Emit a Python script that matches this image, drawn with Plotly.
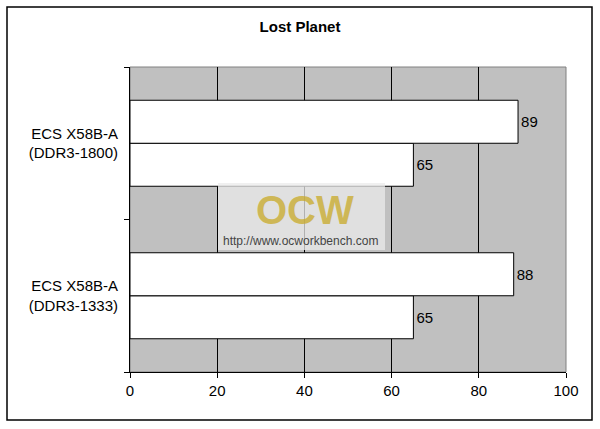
import plotly.graph_objects as go

categories = ["ECS X58B-A<br>(DDR3-1333)", "ECS X58B-A<br>(DDR3-1800)"]
series_lower = [65, 65]
series_upper = [88, 89]
x_ticks = [0, 20, 40, 60, 80, 100]

L, R, T, B = 130, 34, 67, 57
W, H = 600, 429
pw, ph = W - L - R, H - T - B

def px_x(p):
    return (p - L) / pw

def px_y(p):
    return (H - B - p) / ph

FAM = "Arial, Liberation Sans, sans-serif"
font = dict(family=FAM, size=15, color="black")

fig = go.Figure()
for vals in (series_lower, series_upper):
    fig.add_trace(go.Bar(
        y=categories, x=vals, orientation="h",
        marker=dict(color="white", line=dict(color="black", width=1)),
        text=[str(v) for v in vals], textposition="outside",
        textfont=font, cliponaxis=False, showlegend=False, hoverinfo="skip",
    ))

fig.update_layout(
    width=W, height=H,
    margin=dict(l=L, r=R, t=T, b=B),
    paper_bgcolor="white", plot_bgcolor="#C0C0C0",
    barmode="group", bargap=0.436, bargroupgap=0,
    font=font,
    title=dict(text="<b>Lost Planet</b>", x=0.5, xanchor="center",
               y=1 - 27 / H, yanchor="middle", font=dict(size=15, family=FAM)),
    xaxis=dict(range=[0, 100], tickvals=x_ticks, showgrid=True, gridcolor="black", gridwidth=1,
               zeroline=False, showline=True, linecolor="black", linewidth=1,
               ticks="outside", ticklen=5, tickcolor="black", tickfont=font, fixedrange=True),
    yaxis=dict(type="category", categoryorder="array", categoryarray=categories,
               showgrid=False, zeroline=False, showline=True, linecolor="black", linewidth=1,
               ticks="outside", ticklen=5, tickcolor="black", tickson="boundaries",
               tickfont=font, ticklabelstandoff=8, fixedrange=True),
    shapes=[
        dict(type="rect", xref="paper", yref="paper", x0=0, x1=1, y0=0, y1=1,
             line=dict(color="#808080", width=1), layer="below"),
        dict(type="rect", xref="paper", yref="paper",
             x0=px_x(7), x1=px_x(592), y0=px_y(420), y1=px_y(7),
             line=dict(color="black", width=1.5)),
        dict(type="rect", xref="paper", yref="paper",
             x0=px_x(218), x1=px_x(385), y0=px_y(250), y1=px_y(183),
             fillcolor="rgba(235,235,235,0.75)", line=dict(width=0), layer="above"),
    ],
    annotations=[
        dict(text="<b>OCW</b>", xref="paper", yref="paper", x=px_x(305), y=px_y(210),
             showarrow=False, font=dict(family="Arial Black, Arial, sans-serif", size=40, color="rgba(200,170,40,0.75)")),
        dict(text="http://www.ocworkbench.com", xref="paper", yref="paper", x=px_x(300), y=px_y(241),
             showarrow=False, font=dict(family=FAM, size=12, color="#444444")),
    ],
)

fig.write_html("out.html", config={"displayModeBar": False, "staticPlot": True},
               post_script="document.body.style.margin='0';document.body.style.padding='0';")
